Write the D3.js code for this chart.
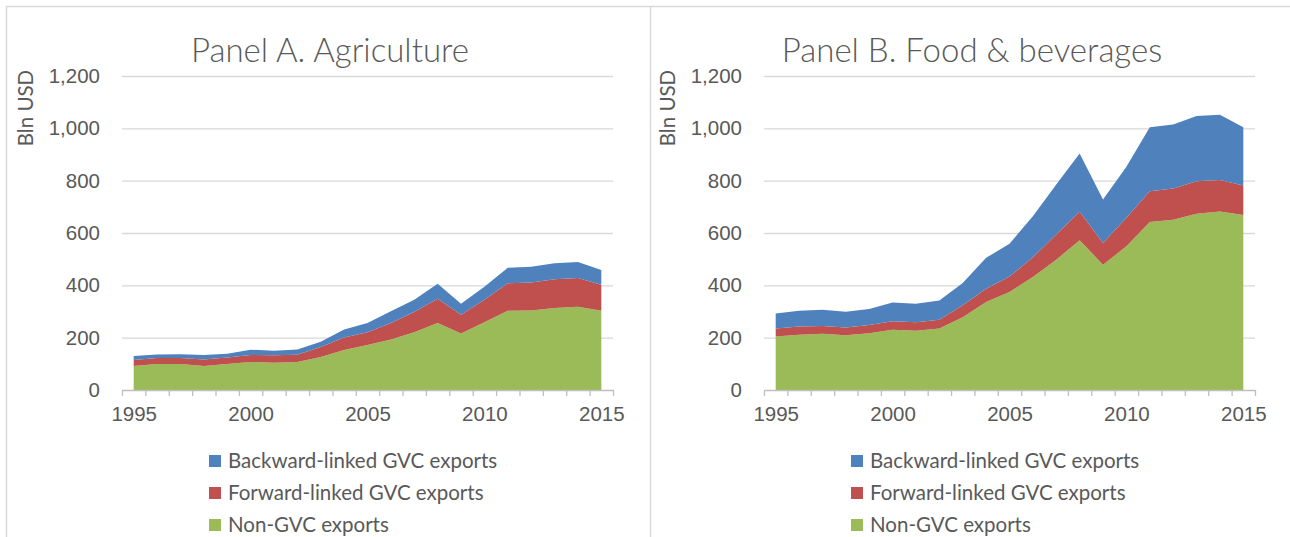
<!DOCTYPE html>
<html>
<head>
<meta charset="utf-8">
<script src="https://cdn.jsdelivr.net/npm/d3@7"></script>
<style>
	html, body { margin: 0; padding: 0; background: #fff; }
	svg { display: block; font-family: Lato, 'Open Sans', sans-serif; }
</style>
</head>
<body>
<svg id="chart" width="1290" height="537"></svg>
<script>
'use strict';

// categories
var years = d3.range(1995, 2016);
var yearLabels = [1995, 2000, 2005, 2010, 2015];
var valueTicks = [0, 200, 400, 600, 800, 1000, 1200];

// series names (bottom to top of the stack)
var seriesKeys = ['Non-GVC exports', 'Forward-linked GVC exports', 'Backward-linked GVC exports'];

// panel A, agriculture (bln USD)
var agriNonGvc   = [92, 99, 99, 92, 99, 107, 104, 107, 126, 153, 172, 193, 221, 256, 216, 259, 303, 304, 313, 318, 303];
var agriForward  = [23, 23, 23, 25, 25, 27, 29, 28, 38, 48, 49, 63, 77, 93, 72, 86, 105, 107, 110, 110, 99];
var agriBackward = [15, 14, 15, 17, 15, 20, 17, 20, 20, 30, 35, 45, 47, 57, 42, 50, 59, 60, 61, 61, 57];

// panel B, food & beverages (bln USD)
var foodNonGvc   = [204, 211, 215, 209, 217, 230, 226, 235, 278, 336, 375, 432, 498, 572, 479, 549, 642, 651, 674, 682, 669];
var foodForward  = [31, 32, 30, 30, 31, 33, 33, 33, 46, 51, 59, 75, 96, 109, 83, 109, 118, 119, 124, 121, 113];
var foodBackward = [57, 60, 62, 60, 62, 71, 71, 74, 85, 118, 125, 157, 191, 223, 166, 195, 244, 245, 249, 249, 222];

// look
var colors = { 'Non-GVC exports': '#9bbb59', 'Forward-linked GVC exports': '#c0504d', 'Backward-linked GVC exports': '#4f81bd' };
var textColor = '#595959';
var lineColor = '#d9d9d9';
var smallFont = '20.5px';

var svg = d3.select('#chart');

// outer frame and divider
svg.append('rect').attr('width', 1290).attr('height', 537).attr('fill', '#fff');
svg.append('path')
	.attr('d', 'M6.5,537V6.5H1290M650.5,6.5V537')
	.attr('fill', 'none')
	.attr('stroke', lineColor)
	.attr('stroke-width', 1.5);

/**
 * draw one stacked area panel
 */
var drawPanel = function(ox, title, nonGvc, forward, backward){

	var left = ox + 115;
	var right = left + 491;
	var g = svg.append('g');

	var rows = years.map(function(y, i){
		var r = { year: y };
		r[seriesKeys[0]] = nonGvc[i];
		r[seriesKeys[1]] = forward[i];
		r[seriesKeys[2]] = backward[i];
		return r;
	});

	var x = d3.scaleLinear().domain([1994.5, 2015.5]).range([left, right]);
	var y = d3.scaleLinear().domain([0, 1200]).range([390, 76]);

	// gridlines
	g.append('g')
		.attr('transform', 'translate(' + left + ',0)')
		.call(d3.axisLeft(y).tickValues(valueTicks.slice(1)).tickSize(-(right - left)).tickFormat(''))
		.call(function(s){
			s.select('.domain').remove();
			s.selectAll('line').attr('stroke', lineColor).attr('stroke-width', 1.3);
		});

	// stacked areas
	var stacked = d3.stack().keys(seriesKeys)(rows);
	var area = d3.area()
		.x(function(d){ return x(d.data.year); })
		.y0(function(d){ return y(d[0]); })
		.y1(function(d){ return y(d[1]); });

	g.selectAll('.layer')
		.data(stacked)
		.enter()
		.append('path')
		.attr('class', 'layer')
		.attr('d', area)
		.attr('fill', function(d){ return colors[d.key]; });

	// x axis line + ticks between categories
	g.append('g')
		.attr('transform', 'translate(0,390)')
		.call(d3.axisBottom(x).tickValues(d3.range(1994.5, 2016, 1)).tickSize(6).tickSizeOuter(0).tickFormat(''))
		.call(function(s){
			s.selectAll('line, path').attr('stroke', '#bfbfbf').attr('stroke-width', 1.3);
		});

	// x labels
	g.append('g')
		.attr('transform', 'translate(0,390)')
		.call(d3.axisBottom(x).tickValues(yearLabels).tickSize(0).tickPadding(24).tickFormat(d3.format('d')))
		.call(function(s){
			s.select('.domain').remove();
			s.selectAll('text').attr('fill', textColor).style('font-size', smallFont).attr('dy', '0.32em');
		});

	// y labels
	g.append('g')
		.attr('transform', 'translate(' + left + ',0)')
		.call(d3.axisLeft(y).tickValues(valueTicks).tickSize(0).tickPadding(22).tickFormat(d3.format(',')))
		.call(function(s){
			s.select('.domain').remove();
			s.selectAll('text').attr('fill', textColor).style('font-size', smallFont);
		});

	// y title
	g.append('text')
		.attr('transform', 'translate(' + (ox + 26) + ',108) rotate(-90)')
		.attr('text-anchor', 'middle')
		.attr('fill', textColor)
		.style('font-size', smallFont)
		.text('Bln USD');

	// title
	g.append('text')
		.attr('x', ox + 323)
		.attr('y', 62)
		.attr('text-anchor', 'middle')
		.attr('fill', textColor)
		.style('font-size', '33px')
		.style('font-weight', 300)
		.text(title);

	// legend, top item is the top layer
	var legend = g.selectAll('.legend')
		.data(seriesKeys.slice().reverse())
		.enter()
		.append('g')
		.attr('class', 'legend')
		.attr('transform', function(d, i){ return 'translate(' + (ox + 202) + ',' + (461 + i * 32) + ')'; });

	legend.append('rect')
		.attr('x', 0)
		.attr('y', -6)
		.attr('width', 12)
		.attr('height', 12)
		.attr('fill', function(d){ return colors[d]; });

	legend.append('text')
		.attr('x', 19)
		.attr('y', 0)
		.attr('dy', '0.35em')
		.attr('fill', textColor)
		.style('font-size', smallFont)
		.text(function(d){ return d; });
};

drawPanel(7, 'Panel A. Agriculture', agriNonGvc, agriForward, agriBackward);
drawPanel(649, 'Panel B. Food & beverages', foodNonGvc, foodForward, foodBackward);
</script>
</body>
</html>
